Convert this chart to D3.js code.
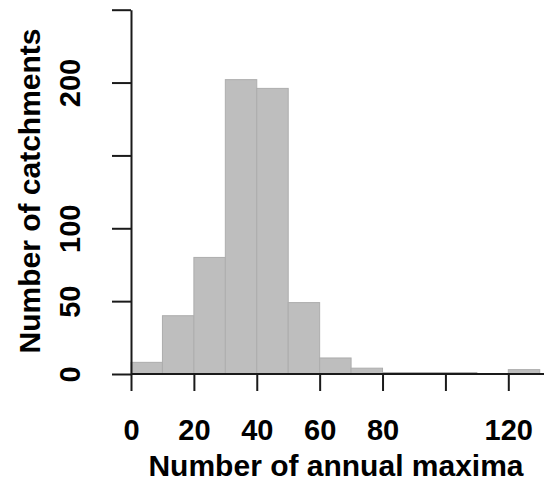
<!DOCTYPE html>
<html>
<head>
<meta charset="utf-8">
<script src="https://cdn.jsdelivr.net/npm/d3@7"></script>
<style>
  body { margin: 0; background: #fff; }
  svg { display: block; }
</style>
</head>
<body>
<div id="dataviz"></div>
<script>
// histogram bins (lower edge, width 10) and counts
const binStarts = [0, 10, 20, 30, 40, 50, 60, 70, 80, 90, 100, 110, 120];
const counts    = [8, 40, 80, 202, 196, 49, 11, 4, 1, 1, 1, 0, 3];
const binWidth = 10;

const xTicks = [0, 20, 40, 60, 80, 100, 120];
const xTickLabels = ["0", "20", "40", "60", "80", "", "120"];
const yTicks = [0, 50, 100, 150, 200, 250];
const yTickLabels = ["0", "50", "100", "", "200", ""];

const xTitle = "Number of annual maxima";
const yTitle = "Number of catchments";

const W = 544, H = 494;
const font = "'Liberation Sans', Arial, sans-serif";

const svg = d3.select("#dataviz")
    .append("svg")
    .attr("width", W)
    .attr("height", H);

// scales fitted to the reference pixel positions
const x = d3.scaleLinear().domain([0, 120]).range([131, 508.3]);
const y = d3.scaleLinear().domain([0, 250]).range([374, 9.7]);

// bars
svg.append("g")
    .selectAll("rect")
    .data(binStarts.map((b, i) => ({ x0: b, x1: b + binWidth, n: counts[i] })))
    .join("rect")
    .attr("x", d => x(d.x0))
    .attr("y", d => y(d.n))
    .attr("width", d => x(d.x1) - x(d.x0))
    .attr("height", d => y(0) - y(d.n))
    .attr("fill", "#bebebe")
    .attr("stroke", "#adadad")
    .attr("stroke-width", 1);

// x axis
const xAxis = svg.append("g")
    .attr("transform", `translate(0,${y(0)})`)
    .call(d3.axisBottom(x)
        .tickValues(xTicks)
        .tickFormat((d, i) => xTickLabels[i])
        .tickSizeInner(17)
        .tickSizeOuter(0)
        .tickPadding(28));
xAxis.select(".domain").attr("d", `M${x(0)},0H${W}`);
xAxis.selectAll("line, path").attr("stroke", "#1a1a1a").attr("stroke-width", 2);
xAxis.selectAll("text")
    .attr("font-family", font)
    .attr("font-weight", "bold")
    .attr("font-size", 29)
    .attr("fill", "#000");

// y axis
const yAxis = svg.append("g")
    .attr("transform", `translate(${x(0)},0)`)
    .call(d3.axisLeft(y)
        .tickValues(yTicks)
        .tickFormat((d, i) => yTickLabels[i])
        .tickSizeInner(19)
        .tickSizeOuter(0)
        .tickPadding(0));
yAxis.selectAll("line, path").attr("stroke", "#1a1a1a").attr("stroke-width", 2);
// each tick group is already moved to y(d); only shift left and rotate
yAxis.selectAll("text")
    .attr("font-family", font)
    .attr("font-weight", "bold")
    .attr("font-size", 29)
    .attr("fill", "#000")
    .attr("x", null)
    .attr("dy", null)
    .attr("text-anchor", "middle")
    .attr("transform", `translate(${80 - x(0)},0) rotate(-90)`);

// axis titles
svg.append("text")
    .attr("x", 336)
    .attr("y", 476)
    .attr("text-anchor", "middle")
    .attr("font-family", font)
    .attr("font-weight", "bold")
    .attr("font-size", 30)
    .text(xTitle);

svg.append("text")
    .attr("transform", "translate(40,191) rotate(-90)")
    .attr("text-anchor", "middle")
    .attr("font-family", font)
    .attr("font-weight", "bold")
    .attr("font-size", 30)
    .text(yTitle);
</script>
</body>
</html>
